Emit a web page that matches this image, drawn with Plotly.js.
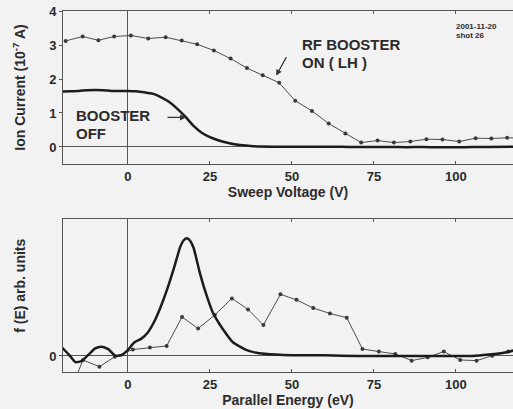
<!DOCTYPE html>
<html>
<head>
<meta charset="utf-8">
<script src="https://cdn.plot.ly/plotly-3.0.1.min.js"></script>
<style>
html,body{margin:0;padding:0;background:#f2f2f2;}
#chart{width:513px;height:409px;}
</style>
</head>
<body>
<div id="chart"></div>
<script>
// ---- Top panel: ion current vs sweep voltage ----
const sweepOnV = [-19, -13.8, -9, -4.2, 0.9, 6.2, 11.5, 16.4, 21.1, 26.2, 31.3, 36.3, 41.1, 46.1, 51.0, 56.1, 61.2, 66.3, 71.1, 76.1, 81.1, 86.1, 91.0, 95.9, 101.0, 106.0, 110.8, 115.6, 120.6];
const currentOn = [3.12, 3.25, 3.14, 3.25, 3.28, 3.19, 3.23, 3.13, 3.02, 2.84, 2.60, 2.32, 2.11, 1.89, 1.36, 1.06, 0.69, 0.40, 0.13, 0.19, 0.13, 0.16, 0.23, 0.22, 0.16, 0.26, 0.25, 0.27, 0.26];

const sweepOffV = [-20, -17.5, -15, -12.5, -10, -7.5, -5, -2.5, 0, 2.5, 5, 7.5, 10, 12.5, 15, 17.5, 20, 22.5, 25, 27.5, 30, 32.5, 35, 37.5, 40, 45, 50, 55, 60, 65, 70, 75, 80, 85, 90, 95, 100, 105, 110, 117.5];
const currentOff = [1.63, 1.64, 1.65, 1.67, 1.68, 1.67, 1.65, 1.65, 1.65, 1.64, 1.61, 1.57, 1.47, 1.33, 1.13, 0.89, 0.62, 0.42, 0.29, 0.20, 0.13, 0.08, 0.05, 0.03, 0.015, 0.01, 0.01, 0.01, 0.01, 0.005, 0.0, 0.0, 0.0, -0.005, 0.0, -0.01, -0.01, 0.0, 0.0, 0.005];

// ---- Bottom panel: f(E) vs parallel energy ----
const energyOn = [-18.7, -13.7, -8.7, -4, 1.5, 6.7, 11.8, 16.5, 21.4, 26.5, 31.7, 36.6, 41.3, 46.5, 51.4, 56.5, 61.6, 66.7, 71.5, 76.5, 81.5, 86.5, 91.4, 96.3, 101.3, 106.3, 111.1, 116.0, 121.0];
const fOn = [-0.32, -0.03, -0.078, -0.005, 0.047, 0.061, 0.073, 0.285, 0.20, 0.30, 0.42, 0.34, 0.226, 0.45, 0.41, 0.35, 0.31, 0.28, 0.051, 0.032, 0.015, -0.034, -0.01, 0.032, -0.029, -0.034, 0.002, 0.032, 0.05];

const energyOff = [-20, -18, -16, -14, -12, -10, -8, -6, -4, -2, 0, 2, 4, 6, 8, 10, 12, 14, 16, 17, 18, 19, 20, 22, 24, 26, 28, 30, 32, 34, 36, 38, 40, 45, 50, 55, 60, 70, 80, 90, 100, 105, 110, 115, 117.5];
const fOff = [0.06, 0.01, -0.045, -0.035, 0.01, 0.055, 0.068, 0.05, 0.005, 0.005, 0.045, 0.10, 0.125, 0.17, 0.25, 0.36, 0.49, 0.64, 0.80, 0.845, 0.86, 0.84, 0.79, 0.60, 0.44, 0.31, 0.23, 0.16, 0.10, 0.07, 0.045, 0.03, 0.02, 0.01, 0.005, 0.005, 0.005, 0.0, 0.0, 0.0, 0.0, 0.0, 0.01, 0.025, 0.04];

const xTicks = [0, 25, 50, 75, 100];
const topYTicks = [0, 1, 2, 3, 4];
const bottomYTicks = [0];

const FONT = 'Liberation Sans, Arial, Helvetica, sans-serif';
const TXT = '#2b2b2b';
const AX = '#555555';

const thinLine = {color: '#4d4d4d', width: 1};
const thinMarker = {color: '#3a3a3a', size: 4};
const thickLine = {color: '#1c1c1c', width: 2.5, shape: 'spline', smoothing: 0.6};

const traces = [
  {x: sweepOnV, y: currentOn, xaxis: 'x', yaxis: 'y', mode: 'lines+markers', line: thinLine, marker: thinMarker, name: 'RF booster on (LH)'},
  {x: sweepOffV, y: currentOff, xaxis: 'x', yaxis: 'y', mode: 'lines', line: thickLine, name: 'Booster off'},
  {x: energyOn, y: fOn, xaxis: 'x2', yaxis: 'y2', mode: 'lines+markers', line: thinLine, marker: thinMarker, name: 'RF booster on (LH)'},
  {x: energyOff, y: fOff, xaxis: 'x2', yaxis: 'y2', mode: 'lines', line: thickLine, name: 'Booster off'}
];

function xAxis(title, anchor) {
  return {
    anchor: anchor, domain: [0, 1], range: [-19.8, 117.4],
    tickvals: xTicks, ticks: 'inside', ticklen: 3, tickcolor: AX,
    showline: true, linecolor: AX, linewidth: 1, mirror: 'ticks',
    showgrid: false, zeroline: true, zerolinecolor: AX, zerolinewidth: 1,
    tickfont: {family: FONT, size: 13, color: TXT, weight: 'bold'},
    title: {text: title, font: {family: FONT, size: 14, color: TXT, weight: 'bold'}, standoff: 4},
    fixedrange: true
  };
}
function yAxis(title, anchor, domain, range, ticks) {
  return {
    anchor: anchor, domain: domain, range: range,
    tickvals: ticks, ticks: 'outside', ticklen: 3, tickcolor: AX,
    showline: true, linecolor: AX, linewidth: 1,
    showgrid: false, zeroline: true, zerolinecolor: AX, zerolinewidth: 1,
    tickfont: {family: FONT, size: 13, color: TXT, weight: 'bold'},
    title: {text: title, font: {family: FONT, size: 14, color: TXT, weight: 'bold'}, standoff: 20},
    fixedrange: true
  };
}

const annFont = {family: FONT, size: 15, color: TXT, weight: 'bold'};
const smallFont = {family: FONT, size: 8, color: TXT, weight: 'bold'};
function label(x, y, text, font) {
  return {xref: 'x', yref: 'y', x: x, y: y, text: text, showarrow: false, xanchor: 'left', yanchor: 'middle', align: 'left', font: font};
}
const layout = {
  width: 513, height: 409,
  margin: {l: 63, r: 0, t: 11, b: 37},
  paper_bgcolor: '#f2f2f2', plot_bgcolor: '#f2f2f2',
  showlegend: false,
  xaxis: xAxis('Sweep Voltage (V)', 'y'),
  yaxis: yAxis('Ion Current (10<sup>-7</sup> A)', 'x', [0.5762, 1], [-0.5, 4], topYTicks),
  xaxis2: xAxis('Parallel Energy (eV)', 'y2'),
  yaxis2: yAxis('&nbsp;&nbsp;&nbsp;&nbsp;&nbsp;f (E) arb. units', 'x2', [0, 0.4238], [-0.117, 1], bottomYTicks),
  annotations: [
    label(52.6, 3.02, 'RF BOOSTER', annFont),
    label(52.6, 2.49, 'ON ( LH )', annFont),
    {xref: 'x', yref: 'y', x: 45.2, y: 2.1, ax: 11, ay: -20, text: '', showarrow: true, arrowhead: 2, arrowsize: 1, arrowwidth: 1.2, arrowcolor: '#333', standoff: 0},
    label(-16.6, 0.92, 'BOOSTER', annFont),
    label(-16.6, 0.41, 'OFF', annFont),
    {xref: 'x', yref: 'y', x: 17.7, y: 0.87, ax: -20, ay: 0, text: '', showarrow: true, arrowhead: 2, arrowsize: 1, arrowwidth: 1.2, arrowcolor: '#333', standoff: 0},
    label(99.3, 3.55, '2001-11-20', smallFont),
    label(99.3, 3.28, 'shot 26', smallFont)
  ]
};

Plotly.newPlot('chart', traces, layout, {staticPlot: true, displayModeBar: false});
</script>
</body>
</html>
